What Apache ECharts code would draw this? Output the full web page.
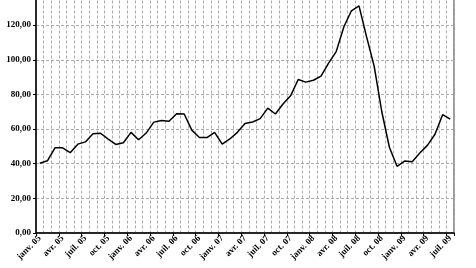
<!DOCTYPE html>
<html>
<head>
<meta charset="utf-8">
<script src="https://cdn.jsdelivr.net/npm/echarts@6/dist/echarts.min.js"></script>
<style>html,body{margin:0;padding:0;background:#fff;overflow:hidden;}#c{width:476px;height:282px;margin-top:-14px;}</style>
</head>
<body>
<div id="c"></div>
<script>
const monthNames = ['janv.', 'févr.', 'mars', 'avr.', 'mai', 'juin', 'juil.', 'août', 'sept.', 'oct.', 'nov.', 'déc.'];
const years = ['05', '06', '07', '08', '09'];
const categories = [];
for (const y of years) {
  for (const m of monthNames) {
    if (categories.length < 55) categories.push(m + ' ' + y);
  }
}
const values = [
  40.3, 41.7, 49.2, 49.2, 46.4, 51.3, 52.6, 57.3, 57.6, 54.2, 51.1, 52.1,
  58.1, 53.8, 57.7, 64.0, 65.0, 64.5, 68.9, 68.7, 59.4, 55.1, 55.1, 58.1,
  51.3, 54.3, 58.1, 63.2, 64.1, 66.0, 72.1, 68.7, 74.5, 79.2, 88.6, 87.1,
  88.2, 90.6, 98.1, 104.7, 118.9, 128.3, 131.1, 113.2, 96.2, 70.0, 49.5, 38.5,
  41.5, 41.1, 46.2, 50.6, 57.0, 68.3, 65.7
];
const yTicks = [0, 20, 40, 60, 80, 100, 120, 140];

const chart = echarts.init(document.getElementById('c'), null, {renderer: 'canvas'});
const font = 'Liberation Serif';
chart.setOption({
  animation: false,
  grid: {left: 36, right: 22, top: 0, bottom: 35, show: true, borderColor: '#9a9a9a', borderWidth: 2, containLabel: false},
  xAxis: {
    type: 'category',
    data: categories,
    boundaryGap: true,
    axisLine: {lineStyle: {color: '#000', width: 1.5}},
    axisTick: {show: true, interval: 2, length: 3, lineStyle: {color: '#000', width: 1}},
    axisLabel: {interval: 2, rotate: 45, fontFamily: font, fontWeight: 'bold', fontSize: 9, color: '#000', margin: 4},
    splitLine: {show: true, interval: 0, lineStyle: {color: '#ababab', type: [3, 2], width: 1}}
  },
  yAxis: {
    type: 'value',
    min: yTicks[0],
    max: yTicks[yTicks.length - 1],
    interval: 20,
    axisLine: {show: true, lineStyle: {color: '#000', width: 1.5}},
    axisTick: {show: true, length: 3, lineStyle: {color: '#000'}},
    axisLabel: {fontFamily: font, fontWeight: 'bold', fontSize: 9, color: '#000', margin: 5,
      formatter: v => v.toFixed(2).replace('.', ',')},
    splitLine: {show: true, lineStyle: {color: '#ababab', type: [3, 2], width: 1}}
  },
  series: [{
    type: 'line',
    data: values,
    showSymbol: false,
    symbol: 'none',
    lineStyle: {color: '#000', width: 1.5},
    z: 5
  }]
});
</script>
</body>
</html>
